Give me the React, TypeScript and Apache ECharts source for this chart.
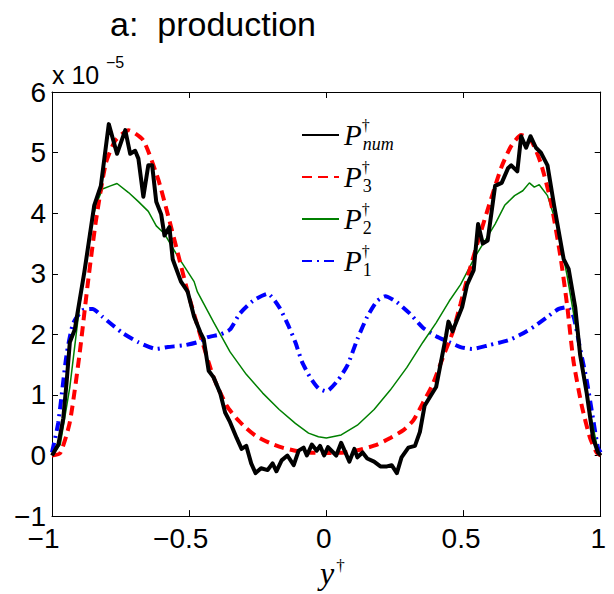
import React, { useEffect, useRef } from "react";
import * as echarts from "echarts";

// values in units of 1e-5
const seriesNames = ["Pnum", "P3", "P2", "P1"];
const legendSubs = ["num", "3", "2", "1"];

const pNumX = [-1.0, -0.977, -0.959, -0.947, -0.935, -0.917, -0.882, -0.846, -0.822, -0.793, -0.763, -0.733, -0.715, -0.697, -0.685, -0.667, -0.649, -0.635, -0.62, -0.602, -0.59, -0.572, -0.56, -0.53, -0.506, -0.482, -0.459, -0.447, -0.429, -0.411, -0.387, -0.369, -0.351, -0.327, -0.309, -0.292, -0.274, -0.258, -0.238, -0.214, -0.196, -0.182, -0.163, -0.142, -0.119, -0.101, -0.083, -0.071, -0.053, -0.035, -0.023, -0.008, 0.006, 0.036, 0.054, 0.084, 0.102, 0.113, 0.132, 0.149, 0.174, 0.197, 0.221, 0.238, 0.257, 0.274, 0.299, 0.323, 0.341, 0.358, 0.382, 0.4, 0.418, 0.436, 0.445, 0.46, 0.495, 0.513, 0.537, 0.553, 0.57, 0.588, 0.615, 0.639, 0.662, 0.674, 0.696, 0.71, 0.728, 0.744, 0.764, 0.782, 0.806, 0.83, 0.865, 0.883, 0.907, 0.925, 0.949, 0.972, 0.99, 1.0];
const pNumY = [0.0, 0.18, 0.61, 1.2, 1.87, 2.08, 3.03, 4.13, 4.45, 5.47, 4.98, 5.37, 4.98, 5.03, 4.9, 4.27, 4.79, 4.79, 4.19, 3.98, 3.63, 3.77, 3.24, 2.87, 2.71, 2.29, 2.03, 1.92, 1.4, 1.29, 1.03, 0.71, 0.55, 0.29, 0.11, 0.16, -0.13, -0.29, -0.21, -0.24, -0.13, -0.26, -0.08, 0.0, -0.16, 0.08, 0.13, 0.0, 0.18, 0.08, 0.16, 0.0, 0.14, 0.0, 0.21, -0.1, 0.11, -0.03, 0.05, -0.05, -0.1, -0.18, -0.18, -0.16, -0.29, -0.03, 0.13, 0.16, 0.39, 0.82, 1.0, 1.13, 1.55, 1.97, 2.21, 2.05, 2.45, 2.82, 3.06, 3.82, 3.5, 3.55, 4.45, 4.5, 4.74, 4.79, 4.69, 5.27, 5.08, 5.27, 5.08, 5.0, 4.79, 4.13, 3.24, 3.08, 2.45, 1.66, 1.03, 0.29, 0.05, 0.0];

const p3X = [-1, -0.97, -0.935, -0.9, -0.87, -0.84, -0.804, -0.769, -0.721, -0.667, -0.613, -0.578, -0.542, -0.506, -0.459, -0.411, -0.363, -0.327, -0.292, -0.256, -0.208, -0.16, -0.113, -0.065, 0, 0.066, 0.126, 0.185, 0.233, 0.281, 0.317, 0.352, 0.388, 0.424, 0.46, 0.489, 0.52, 0.561, 0.597, 0.639, 0.674, 0.71, 0.746, 0.782, 0.818, 0.853, 0.877, 0.901, 0.931, 0.961, 0.985, 1];
const p3Y = [0.0, 0.04, 0.55, 1.66, 2.82, 3.87, 4.82, 5.2, 5.37, 5.2, 4.56, 3.98, 3.35, 2.71, 1.98, 1.29, 0.82, 0.61, 0.45, 0.32, 0.21, 0.13, 0.08, 0.05, 0.04, 0.05, 0.1, 0.18, 0.29, 0.42, 0.58, 0.87, 1.18, 1.61, 2.03, 2.5, 3.03, 3.66, 4.19, 4.77, 5.11, 5.29, 5.2, 4.82, 4.19, 3.29, 2.5, 1.55, 0.82, 0.29, 0.05, 0.0];

const p2X = [-1, -0.97, -0.935, -0.9, -0.864, -0.84, -0.816, -0.787, -0.763, -0.721, -0.685, -0.649, -0.62, -0.59, -0.542, -0.482, -0.47, -0.411, -0.351, -0.292, -0.232, -0.172, -0.113, -0.065, -0.029, 0, 0.054, 0.113, 0.174, 0.233, 0.293, 0.352, 0.4, 0.448, 0.489, 0.543, 0.579, 0.615, 0.65, 0.686, 0.716, 0.74, 0.758, 0.776, 0.806, 0.842, 0.877, 0.907, 0.937, 0.966, 0.99, 1];
const p2Y = [0.0, 0.18, 1.13, 2.45, 3.66, 4.13, 4.4, 4.45, 4.49, 4.34, 4.19, 4.03, 3.79, 3.66, 3.29, 2.87, 2.7, 2.2, 1.71, 1.34, 1.03, 0.76, 0.53, 0.37, 0.31, 0.29, 0.34, 0.5, 0.76, 1.08, 1.45, 1.87, 2.19, 2.55, 2.82, 3.29, 3.55, 3.82, 4.13, 4.29, 4.37, 4.5, 4.43, 4.47, 4.29, 3.77, 2.98, 2.19, 1.4, 0.61, 0.08, 0.0];

const p1X = [-1, -0.977, -0.947, -0.923, -0.888, -0.852, -0.816, -0.745, -0.685, -0.62, -0.578, -0.518, -0.47, -0.435, -0.387, -0.351, -0.316, -0.268, -0.214, -0.172, -0.137, -0.113, -0.089, -0.059, -0.029, 0, 0.042, 0.078, 0.113, 0.149, 0.185, 0.215, 0.257, 0.305, 0.352, 0.4, 0.448, 0.489, 0.531, 0.591, 0.662, 0.71, 0.758, 0.806, 0.847, 0.877, 0.901, 0.925, 0.949, 0.972, 0.99, 1];
const p1Y = [0.05, 0.55, 1.66, 2.18, 2.4, 2.42, 2.29, 2.03, 1.87, 1.76, 1.79, 1.82, 1.87, 1.95, 2.0, 2.08, 2.34, 2.55, 2.67, 2.45, 2.13, 1.87, 1.55, 1.29, 1.11, 1.06, 1.24, 1.5, 1.92, 2.29, 2.55, 2.63, 2.53, 2.34, 2.11, 1.97, 1.87, 1.79, 1.76, 1.82, 1.9, 2.0, 2.13, 2.29, 2.42, 2.45, 2.29, 1.76, 1.24, 0.61, 0.13, 0.05];

const xMin = -1, xMax = 1, xInterval = 0.5;
const yMin = -1, yMax = 6, yInterval = 1;

const pairs = (xs: number[], ys: number[]) => xs.map((x, i) => [x, ys[i]]);
const fmt = (v: number) => String(v).replace("-", "\u2212");
const fmtX = (v: number) => (v < 0 ? `{n|${fmt(v)}}` : `{p|${fmt(v)}}`);

const SANS = "'Liberation Sans', Arial, Helvetica, sans-serif";
const SERIF = "'Liberation Serif', 'DejaVu Serif', serif";
const TICK_FONT = 28;

export default function App() {
  const ref = useRef<HTMLDivElement>(null);
  useEffect(() => {
    document.body.style.margin = "0";
    if (!ref.current) return;
    const chart = echarts.init(ref.current, undefined, { renderer: "svg" });
    const axisCommon = {
      min: xMin, max: xMax, interval: xInterval,
      axisLine: { show: true, onZero: false, lineStyle: { color: "#000", width: 1 } },
      axisTick: { show: true, inside: true, length: 6, lineStyle: { color: "#000" } },
      splitLine: { show: false },
    };
    const yCommon = {
      min: yMin, max: yMax, interval: yInterval,
      axisLine: { show: true, onZero: false, lineStyle: { color: "#000", width: 1 } },
      axisTick: { show: true, inside: true, length: 6, lineStyle: { color: "#000" } },
      splitLine: { show: false },
    };
    chart.setOption({
      animation: false,
      backgroundColor: "#fff",
      grid: { left: 52, right: 3, top: 92, bottom: 60, containLabel: false },
      xAxis: [
        {
          type: "value", position: "bottom", ...axisCommon,
          axisLabel: {
            show: true, fontSize: TICK_FONT, fontFamily: SANS, color: "#000", margin: 12, formatter: fmtX,
            lineHeight: 20,
            rich: {
              n: { fontSize: TICK_FONT, fontFamily: SANS, color: "#000", lineHeight: 20, padding: [0, 17, 0, 0] },
              p: { fontSize: TICK_FONT, fontFamily: SANS, color: "#000", lineHeight: 20, padding: [0, 5, 0, 0] },
            },
          },
          name: "{y|y}{d|\u2020}",
          nameLocation: "middle",
          nameGap: 24,
          nameTextStyle: {
            padding: [0, 0, 0, 12],
            rich: {
              y: { fontFamily: SERIF, fontStyle: "italic", fontSize: 32, lineHeight: 32, color: "#000" },
              d: { fontFamily: SERIF, fontSize: 17, lineHeight: 14, verticalAlign: "top", color: "#000", padding: [0, 0, 0, 2] },
            },
          },
        },
        { type: "value", position: "top", ...axisCommon, axisLabel: { show: false } },
      ],
      yAxis: [
        {
          type: "value", position: "left", ...yCommon,
          axisLabel: { show: true, fontSize: TICK_FONT, fontFamily: SANS, color: "#000", margin: 6, lineHeight: 20, formatter: fmt },
        },
        { type: "value", position: "right", ...yCommon, axisLabel: { show: false } },
      ],
      legend: {
        orient: "vertical",
        left: 296,
        top: 112,
        itemWidth: 37,
        itemHeight: 14,
        itemGap: 6,
        selectedMode: false,
        itemStyle: { opacity: 0, borderWidth: 0 },
        data: seriesNames,
        formatter: (name: string) => {
          const i = seriesNames.indexOf(name);
          const sub = legendSubs[i];
          const subStyle = /^\d+$/.test(sub) ? "sn" : "si";
          return `{p|P}{d|\u2020}{${subStyle}|${sub}}`;
        },
        textStyle: {
          color: "#000",
          rich: {
            p: { fontFamily: SERIF, fontStyle: "italic", fontSize: 29, lineHeight: 36, color: "#000" },
            d: { fontFamily: SERIF, fontSize: 16, lineHeight: 14, verticalAlign: "top", width: 1, color: "#000" },
            si: { fontFamily: SERIF, fontStyle: "italic", fontSize: 18, lineHeight: 18, verticalAlign: "bottom", color: "#000" },
            sn: { fontFamily: SERIF, fontSize: 18, lineHeight: 18, verticalAlign: "bottom", color: "#000" },
          },
        },
      },
      graphic: [
        {
          type: "text", left: 110, top: 7,
          style: { text: "a:  production", fontFamily: SANS, fontSize: 34, fill: "#000" },
        },
        {
          type: "text", left: 52, top: 62,
          style: { text: "x 10", fontFamily: SANS, fontSize: 25, fill: "#000" },
        },
        {
          type: "text", left: 106, top: 54,
          style: { text: "\u22125", fontFamily: SANS, fontSize: 16, fill: "#000" },
        },
      ],
      series: [
        {
          name: seriesNames[0], type: "line", data: pairs(pNumX, pNumY), symbol: "none",
          lineStyle: { color: "#000", width: 4, join: "round" }, itemStyle: { color: "#000" }, z: 5,
        },
        {
          name: seriesNames[1], type: "line", data: pairs(p3X, p3Y), symbol: "none", smooth: 0.2,
          lineStyle: { color: "#ff0000", width: 4, type: [10, 6] }, itemStyle: { color: "#ff0000" }, z: 4,
        },
        {
          name: seriesNames[2], type: "line", data: pairs(p2X, p2Y), symbol: "none",
          lineStyle: { color: "#008000", width: 1.5 }, itemStyle: { color: "#008000" }, z: 3,
        },
        {
          name: seriesNames[3], type: "line", data: pairs(p1X, p1Y), symbol: "none", smooth: 0.2,
          lineStyle: { color: "#0000ff", width: 4, type: [10, 5, 2, 5] }, itemStyle: { color: "#0000ff" }, z: 2,
        },
      ],
    });
    return () => chart.dispose();
  }, []);
  return <div ref={ref} style={{ width: 614, height: 594 }} />;
}
